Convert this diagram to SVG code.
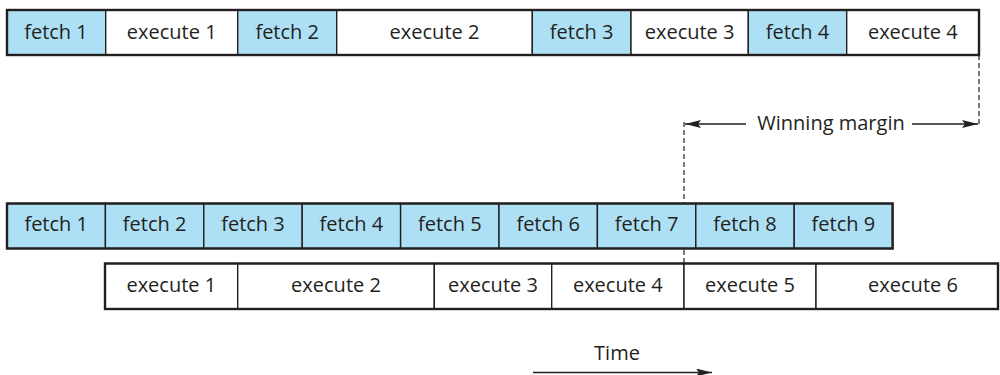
<svg xmlns="http://www.w3.org/2000/svg" width="1000" height="375" viewBox="0 0 1000 375">
<style>
.f{fill:#ADE0F5;stroke:#231F20;stroke-width:1.4}
.e{fill:#FFFFFF;stroke:#231F20;stroke-width:1.4}
.o{fill:none;stroke:#231F20;stroke-width:2.4}
text{font-family:"Open Sans","Liberation Sans",sans-serif;font-size:20px;fill:#231F20;text-anchor:middle}
.d{stroke:#231F20;stroke-width:1.2;stroke-dasharray:5 3;fill:none}
.a{stroke:#231F20;stroke-width:1.4;fill:none}
</style>
<defs>
<marker id="ah" viewBox="0 0 16 8" refX="16" refY="4" markerWidth="16" markerHeight="8" markerUnits="userSpaceOnUse" orient="auto-start-reverse">
<path d="M0,0 L16,4 L0,8 L3,4 Z" fill="#231F20"/>
</marker>
</defs>
<g id="connectors">
<line class="d" x1="979" y1="55" x2="979" y2="124"/>
<line class="d" x1="684" y1="122" x2="684" y2="263"/>
<line class="a" x1="746" y1="124" x2="685" y2="124" marker-end="url(#ah)"/>
<line class="a" x1="912" y1="124" x2="978" y2="124" marker-end="url(#ah)"/>
<line class="a" x1="533" y1="372.5" x2="712" y2="372.5" marker-end="url(#ah)"/>
</g>
<g id="seq-row">
<g id="s-fetch1"><rect class="f" x="7" y="10" width="98.7" height="45"/><text x="56" y="39">fetch 1</text></g>
<g id="s-exec1"><rect class="e" x="105.7" y="10" width="132" height="45"/><text x="171.7" y="39">execute 1</text></g>
<g id="s-fetch2"><rect class="f" x="237.7" y="10" width="99" height="45"/><text x="287.2" y="39">fetch 2</text></g>
<g id="s-exec2"><rect class="e" x="336.7" y="10" width="195.6" height="45"/><text x="434.5" y="39">execute 2</text></g>
<g id="s-fetch3"><rect class="f" x="532.3" y="10" width="98.7" height="45"/><text x="581.6" y="39">fetch 3</text></g>
<g id="s-exec3"><rect class="e" x="631" y="10" width="117.3" height="45"/><text x="689.6" y="39">execute 3</text></g>
<g id="s-fetch4"><rect class="f" x="748.3" y="10" width="98.4" height="45"/><text x="797.5" y="39">fetch 4</text></g>
<g id="s-exec4"><rect class="e" x="846.7" y="10" width="132.3" height="45"/><text x="912.8" y="39">execute 4</text></g>
<rect class="o" x="7" y="10" width="972" height="45"/>
</g>
<g id="fetch-row">
<g id="p-fetch1"><rect class="f" x="7" y="203.5" width="98.4" height="45"/><text x="56.2" y="231">fetch 1</text></g>
<g id="p-fetch2"><rect class="f" x="105.4" y="203.5" width="98.4" height="45"/><text x="154.6" y="231">fetch 2</text></g>
<g id="p-fetch3"><rect class="f" x="203.8" y="203.5" width="98.4" height="45"/><text x="253" y="231">fetch 3</text></g>
<g id="p-fetch4"><rect class="f" x="302.2" y="203.5" width="98.4" height="45"/><text x="351.4" y="231">fetch 4</text></g>
<g id="p-fetch5"><rect class="f" x="400.6" y="203.5" width="98.4" height="45"/><text x="449.8" y="231">fetch 5</text></g>
<g id="p-fetch6"><rect class="f" x="499" y="203.5" width="98.4" height="45"/><text x="548.2" y="231">fetch 6</text></g>
<g id="p-fetch7"><rect class="f" x="597.4" y="203.5" width="98.4" height="45"/><text x="646.6" y="231">fetch 7</text></g>
<g id="p-fetch8"><rect class="f" x="695.8" y="203.5" width="98.4" height="45"/><text x="745" y="231">fetch 8</text></g>
<g id="p-fetch9"><rect class="f" x="794.2" y="203.5" width="98.4" height="45"/><text x="843.4" y="231">fetch 9</text></g>
<rect class="o" x="7" y="203.5" width="885.6" height="45"/>
</g>
<g id="exec-row">
<g id="p-exec1"><rect class="e" x="105" y="263.5" width="132.7" height="45.5"/><text x="171.3" y="292">execute 1</text></g>
<g id="p-exec2"><rect class="e" x="237.7" y="263.5" width="196.6" height="45.5"/><text x="336" y="292">execute 2</text></g>
<g id="p-exec3"><rect class="e" x="434.3" y="263.5" width="117.4" height="45.5"/><text x="493" y="292">execute 3</text></g>
<g id="p-exec4"><rect class="e" x="551.7" y="263.5" width="132.3" height="45.5"/><text x="617.8" y="292">execute 4</text></g>
<g id="p-exec5"><rect class="e" x="684" y="263.5" width="132" height="45.5"/><text x="750" y="292">execute 5</text></g>
<g id="p-exec6"><rect class="e" x="816" y="263.5" width="182" height="45.5"/><text x="913" y="292">execute 6</text></g>
<rect class="o" x="105" y="263.5" width="893" height="45.5"/>
</g>
<g id="labels">
<text x="831" y="130">Winning margin</text>
<text x="617" y="360">Time</text>
</g>
</svg>
